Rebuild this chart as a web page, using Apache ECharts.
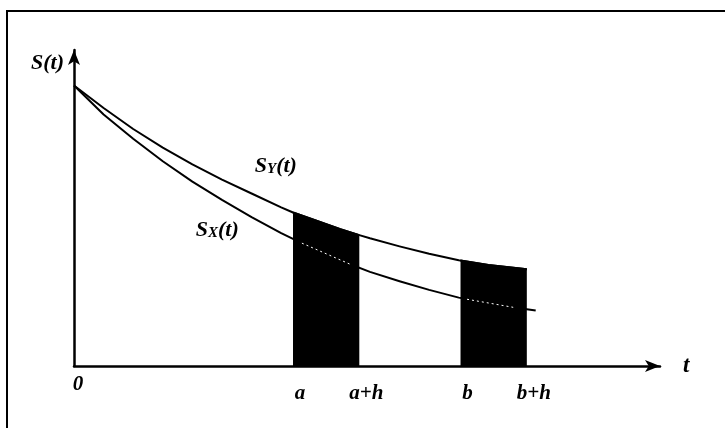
<!DOCTYPE html>
<html><head><meta charset="utf-8">
<script src="https://cdn.jsdelivr.net/npm/echarts@6/dist/echarts.min.js"></script>
<style>html,body{margin:0;padding:0;background:#fff}#c{width:725px;height:428px}</style>
</head><body><div id="c"></div>
<script>
// ---- data ----
const A = 3.7, H = 1.12, B = 6.53;
const tickValues = [0, A, A + H, B, B + H];
const tickLabels = ['0', 'a', 'a+h', 'b', 'b+h'];
const sY = [[0,0.87],[0.5,0.80],[1,0.735],[1.5,0.677],[2,0.625],[2.5,0.578],[3,0.535],[3.5,0.492],[3.7,0.476],[4,0.457],[4.5,0.424],[4.82,0.406],[5,0.396],[5.5,0.371],[6,0.348],[6.5,0.328],[6.53,0.327],[7,0.313],[7.5,0.303],[7.65,0.300]];
const sX = [[0,0.87],[0.5,0.78],[1,0.705],[1.5,0.635],[2,0.572],[2.5,0.515],[3,0.462],[3.5,0.412],[3.7,0.394],[4,0.368],[4.5,0.327],[5,0.292],[5.5,0.263],[6,0.236],[6.5,0.212],[7,0.195],[7.5,0.18],[7.8,0.172]];
const sXinA = [[3.85,0.381],[4.66,0.316]];
const sXinB = [[6.64,0.207],[7.42,0.182]];
const labelSY = [3.41, 0.620];
const labelSX = [2.42, 0.422];

const areaA = sY.filter(p => p[0] >= A - 1e-9 && p[0] <= A + H + 1e-9);
const areaB = sY.filter(p => p[0] >= B - 1e-9 && p[0] <= B + H + 1e-9);

const FONT = 'Liberation Serif';
const txt = (size, extra) => Object.assign({fontFamily: FONT, fontStyle: 'italic', fontWeight: 'bold', fontSize: size, color: '#000'}, extra || {});
const curveRich = {
  s: txt(22, {lineHeight: 22, verticalAlign: 'top'}),
  sub: txt(15, {lineHeight: 15, verticalAlign: 'bottom', padding: [11, 0, 0, 0]}),
  p: txt(22, {lineHeight: 22, verticalAlign: 'top'})
};
const markLabel = (coord, sub) => ({
  symbol: 'circle', symbolSize: 1, itemStyle: {color: 'rgba(0,0,0,0)'},
  label: {show: true, position: 'inside', formatter: '{s|S}{sub|' + sub + '}{p|(t)}', rich: curveRich},
  data: [{coord: coord}]
});

const chart = echarts.init(document.getElementById('c'));
chart.setOption({
  animation: false,
  backgroundColor: '#fff',
  grid: {left: 74, right: 65, top: 50, bottom: 62},
  graphic: [{
    type: 'polyline', silent: true,
    shape: {points: [[7, 428], [7, 11], [725, 11]]},
    style: {stroke: '#000', lineWidth: 2, fill: null}
  }],
  xAxis: {
    type: 'value', min: 0, max: 9.9,
    name: 't', nameLocation: 'end', nameGap: 23,
    nameTextStyle: txt(23, {align: 'left', verticalAlign: 'middle'}),
    axisLine: {show: true, lineStyle: {color: '#000', width: 2.5}, symbol: ['none', 'arrow'], symbolSize: [9, 15]},
    axisTick: {show: false},
    splitLine: {show: false},
    axisLabel: {
      show: true, margin: 8, customValues: tickValues, hideOverlap: false,
      formatter: v => {
        const i = tickValues.findIndex(t => Math.abs(t - v) < 1e-6);
        if (i < 0) return '';
        return i === 0 ? '{z|' + tickLabels[i] + '}' : '{l|' + tickLabels[i] + '}';
      },
      rich: {
        z: txt(21, {padding: [0, 0, 0, 8]}),
        l: txt(21, {padding: [9, 0, 0, 14]})
      }
    }
  },
  yAxis: {
    type: 'value', min: 0, max: 0.98,
    name: 'S(t)', nameLocation: 'end', nameGap: -13,
    nameTextStyle: txt(22, {align: 'right', verticalAlign: 'middle', padding: [0, 10, 0, 0]}),
    axisLine: {show: true, lineStyle: {color: '#000', width: 2.5}, symbol: ['none', 'arrow'], symbolSize: [9, 15]},
    axisTick: {show: false},
    axisLabel: {show: false},
    splitLine: {show: false}
  },
  series: [
    {type: 'line', data: areaA, symbol: 'none', smooth: false, z: 2,
     lineStyle: {color: '#000', width: 2}, areaStyle: {color: '#000', opacity: 1}},
    {type: 'line', data: areaB, symbol: 'none', smooth: false, z: 2,
     lineStyle: {color: '#000', width: 2}, areaStyle: {color: '#000', opacity: 1}},
    {type: 'line', data: sY, symbol: 'none', smooth: false, z: 3,
     lineStyle: {color: '#000', width: 2, join: 'round'}, markPoint: markLabel(labelSY, 'Y')},
    {type: 'line', data: sX, symbol: 'none', smooth: false, z: 3,
     lineStyle: {color: '#000', width: 2, join: 'round'}, markPoint: markLabel(labelSX, 'X')},
    {type: 'line', data: sXinA, symbol: 'none', z: 4,
     lineStyle: {color: '#fff', width: 1, type: [2, 3]}},
    {type: 'line', data: sXinB, symbol: 'none', z: 4,
     lineStyle: {color: '#fff', width: 1, type: [2, 3]}}
  ]
});
</script></body></html>
